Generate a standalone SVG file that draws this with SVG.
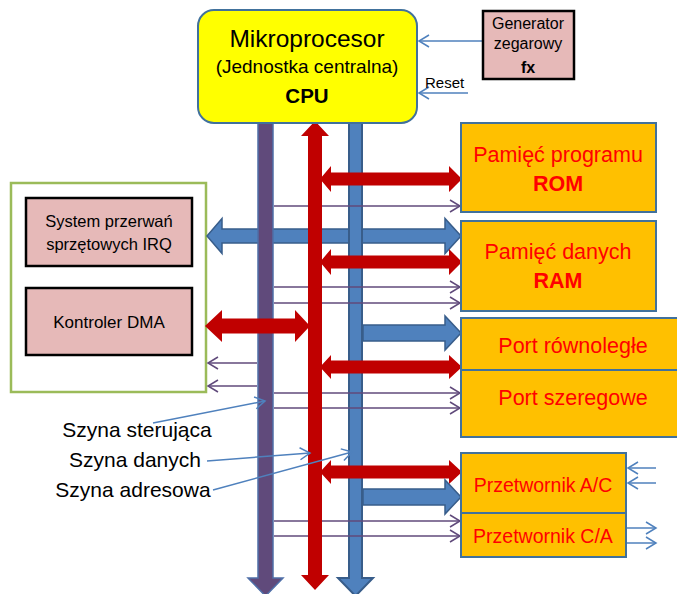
<svg xmlns="http://www.w3.org/2000/svg" width="677" height="594" viewBox="0 0 677 594">
<style>
text{font-family:"Liberation Sans",Arial,sans-serif;}
.blk{fill:#000;}
.red{fill:#FF0000;}
.c{text-anchor:middle;}
.b{font-weight:bold;}
.orange{fill:#FFC000;stroke:#41719C;stroke-width:2;}
.pink{fill:#E6B9B8;stroke:#000;stroke-width:2.5;}
.thinp{stroke:#604A7B;stroke-width:1.5;fill:none;marker-end:url(#ap);}
.thinb{stroke:#4F81BD;stroke-width:1.5;fill:none;marker-end:url(#ab);}
.redA{fill:#C00000;}
.blueA{fill:#4F81BD;stroke:#385D8A;stroke-width:1.5;}
</style>
<defs>
<marker id="ap" markerUnits="userSpaceOnUse" markerWidth="14" markerHeight="14" refX="11" refY="7" orient="auto"><path d="M1,1 L11,7 L1,13" fill="none" stroke="#604A7B" stroke-width="1.5"/></marker>
<marker id="ab" markerUnits="userSpaceOnUse" markerWidth="14" markerHeight="14" refX="11" refY="7" orient="auto"><path d="M1,1 L11,7 L1,13" fill="none" stroke="#4F81BD" stroke-width="1.5"/></marker>
</defs>
<rect width="677" height="594" fill="#fff"/>

<g id="left-group">
<rect x="11" y="183" width="195" height="209" fill="#fff" stroke="#9BBB59" stroke-width="2.5"/>
</g>
<g id="irq">
<rect class="pink" x="26" y="198" width="166" height="68"/>
<text class="blk c" x="109" y="227" font-size="16.5">System przerwań</text>
<text class="blk c" x="109" y="250" font-size="16.5">sprzętowych IRQ</text>
</g>
<g id="dma">
<rect class="pink" x="26" y="288" width="166" height="67"/>
<text class="blk c" x="109" y="328" font-size="17">Kontroler DMA</text>
</g>

<g id="connectors">
<polygon class="blueA" points="207,236 222,218.5 222,229 445,229 445,218.5 461,236 445,253.5 445,243 222,243 222,253.5"/>
<polygon id="bus-control" points="258,118 273,118 273,578 283,578 265.5,596 248,578 258,578" fill="#604A7B" stroke="#4F6FA8" stroke-width="1.5"/>
<polygon id="bus-address" points="349,118 362,118 362,578 373,578 355.5,596 338,578 349,578" fill="#4F81BD" stroke="#385D8A" stroke-width="2"/>
<line class="thinp" x1="274" y1="206" x2="460" y2="206"/>
<line class="thinp" x1="274" y1="287" x2="460" y2="287"/>
<line class="thinp" x1="274" y1="303" x2="460" y2="303"/>
<line class="thinp" x1="274" y1="393" x2="460" y2="393"/>
<line class="thinp" x1="274" y1="408" x2="460" y2="408"/>
<line class="thinp" x1="274" y1="521" x2="460" y2="521"/>
<line class="thinp" x1="274" y1="536" x2="460" y2="536"/>
<line class="thinp" x1="257" y1="363" x2="208" y2="363"/>
<line class="thinp" x1="257" y1="386" x2="208" y2="386"/>
<polygon id="bus-data" class="redA" points="315,121 329,136 322,136 322,575 329,575 315,590 301,575 308,575 308,136 301,136"/>
<polygon class="redA" points="320,179 331,166 331,172.5 449,172.5 449,166 462,179 449,192 449,185.5 331,185.5 331,192"/>
<polygon class="redA" points="320,262 331,249 331,255.5 449,255.5 449,249 462,262 449,275 449,268.5 331,268.5 331,275"/>
<polygon class="redA" points="320,367 331,355 331,360.5 449,360.5 449,355 462,367 449,379 449,373.5 331,373.5 331,379"/>
<polygon class="redA" points="320,472 331,460 331,465.5 449,465.5 449,460 462,472 449,484 449,478.5 331,478.5 331,484"/>
<polygon class="redA" points="205,326 222,310 222,318.5 295,318.5 295,310 310,326 295,342 295,333.5 222,333.5 222,342"/>
<polygon class="blueA" points="363,325 445,325 445,316 461,333 445,350 445,341 363,341"/>
<polygon class="blueA" points="363,489 445,489 445,480 461,497 445,514 445,505 363,505"/>
<line class="thinb" x1="483" y1="41" x2="419" y2="41"/>
<line class="thinb" x1="468" y1="93" x2="419" y2="93"/>
<line class="thinb" x1="656" y1="468" x2="628" y2="468"/>
<line class="thinb" x1="656" y1="483" x2="628" y2="483"/>
<line class="thinb" x1="627" y1="528" x2="656" y2="528"/>
<line class="thinb" x1="627" y1="543" x2="656" y2="543"/>
<line class="thinb" x1="153" y1="423" x2="265" y2="401"/>
<line class="thinb" x1="207" y1="461" x2="310" y2="453"/>
<line class="thinb" x1="213" y1="490" x2="352" y2="452"/>
</g>

<g id="cpu">
<rect x="198" y="10" width="219" height="113" rx="16" fill="#FFFF00" stroke="#41719C" stroke-width="2"/>
<text class="blk c" x="307" y="47" font-size="24.5">Mikroprocesor</text>
<text class="blk c" x="307" y="73" font-size="19">(Jednostka centralna)</text>
<text class="blk c b" x="307" y="103" font-size="20.5">CPU</text>
</g>
<g id="generator">
<rect class="pink" x="483" y="11" width="91" height="68"/>
<text class="blk c" x="528" y="29" font-size="16">Generator</text>
<text class="blk c" x="528" y="49" font-size="16">zegarowy</text>
<text class="blk c b" x="528" y="73" font-size="16">fx</text>
</g>
<text class="blk" x="425" y="88" font-size="15">Reset</text>

<g id="rom">
<rect class="orange" x="461" y="123" width="195" height="89"/>
<text class="red c" x="558" y="162" font-size="21.5">Pamięć programu</text>
<text class="red c b" x="558" y="191" font-size="21.5">ROM</text>
</g>
<g id="ram">
<rect class="orange" x="461" y="221" width="195" height="90"/>
<text class="red c" x="558" y="259" font-size="21.5">Pamięć danych</text>
<text class="red c b" x="558" y="288" font-size="21.5">RAM</text>
</g>
<g id="port-par">
<rect class="orange" x="461" y="318" width="222" height="52"/>
<text class="red c" x="573" y="353" font-size="21.5">Port równoległe</text>
</g>
<g id="port-ser">
<rect class="orange" x="461" y="370" width="222" height="67"/>
<text class="red c" x="573" y="405" font-size="21.5">Port szeregowe</text>
</g>
<g id="adc">
<rect class="orange" x="461" y="453" width="165" height="60"/>
<text class="red c" x="543" y="492" font-size="19.5">Przetwornik A/C</text>
</g>
<g id="dac">
<rect class="orange" x="461" y="513" width="165" height="44"/>
<text class="red c" x="543" y="543" font-size="19.5">Przetwornik C/A</text>
</g>

<g id="labels">
<text class="blk c" x="137" y="437" font-size="21">Szyna sterująca</text>
<text class="blk c" x="135" y="467" font-size="21">Szyna danych</text>
<text class="blk c" x="133" y="497" font-size="21">Szyna adresowa</text>
</g>
</svg>
